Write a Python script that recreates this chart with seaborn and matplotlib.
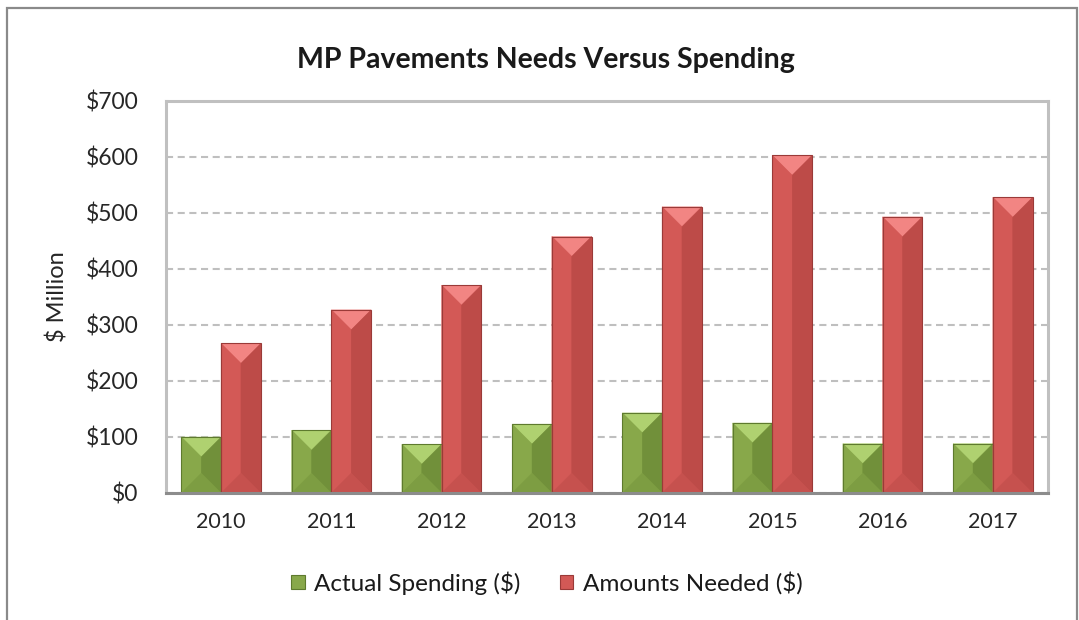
import matplotlib
matplotlib.use("Agg")
import matplotlib.pyplot as plt
from matplotlib.patches import Rectangle, Patch, Polygon
import numpy as np
import pandas as pd
import seaborn as sns

# ---- data ($ million) ----
years = ["2010", "2011", "2012", "2013", "2014", "2015", "2016", "2017"]
actual_spending = [100, 112, 87, 123, 143, 125, 88, 88]
amounts_needed = [267, 327, 371, 458, 511, 603, 493, 528]
series_names = ["Actual Spending ($)", "Amounts Needed ($)"]
y_ticks = [0, 100, 200, 300, 400, 500, 600, 700]
y_tick_labels = ["$0", "$100", "$200", "$300", "$400", "$500", "$600", "$700"]
title = "MP Pavements Needs Versus Spending"
y_label = "$ Million"

df = pd.DataFrame({
    "Year": years * 2,
    "Value": actual_spending + amounts_needed,
    "Series": [series_names[0]] * len(years) + [series_names[1]] * len(years),
})

# face shades per series: top, left, right, bottom, edge
shades = {
    series_names[0]: dict(top="#AFD170", left="#88A84A", right="#71903A",
                          bottom="#7D9D42", edge="#5E7A2E"),
    series_names[1]: dict(top="#F28583", left="#D35956", right="#BD4B48",
                          bottom="#C6514E", edge="#9A3A38"),
}

sns.set_theme(style="white")
plt.rcParams["font.family"] = ["Lato", "DejaVu Sans"]
plt.rcParams["text.color"] = "#1a1a1a"

W, H, DPI = 1079, 620, 100
fig = plt.figure(figsize=(W / DPI, H / DPI), dpi=DPI)
fig.patch.set_facecolor("white")

ax_l, ax_r, ax_t, ax_b = 166, 1048, 101, 493
ax = fig.add_axes([ax_l / W, 1 - ax_b / H, (ax_r - ax_l) / W, (ax_b - ax_t) / H])

palette = {k: v["left"] for k, v in shades.items()}
sns.barplot(data=df, x="Year", y="Value", hue="Series", order=years,
            hue_order=series_names, palette=palette, width=0.72,
            saturation=1, ax=ax, legend=False, edgecolor="none", zorder=3)

ax.set_ylim(0, 700)
ax.set_xlim(-0.5, len(years) - 0.5)

# pixel scales to build the chiselled bevel on each bar
px_per_x = (ax_r - ax_l) / len(years)
px_per_y = (ax_b - ax_t) / 700.0

for container, name in zip(ax.containers, series_names):
    sh = shades[name]
    for bar in container.patches:
        x0 = bar.get_x()
        w = bar.get_width()
        h = bar.get_height()
        x1 = x0 + w
        xc = x0 + w / 2
        depth = (w * px_per_x / 2) / px_per_y
        depth = min(depth, h / 2)
        top, bot = h, 0.0
        faces = [
            ([(x0, top), (x1, top), (xc, top - depth)], sh["top"]),
            ([(x0, top), (xc, top - depth), (xc, bot + depth), (x0, bot)], sh["left"]),
            ([(x1, top), (xc, top - depth), (xc, bot + depth), (x1, bot)], sh["right"]),
            ([(x0, bot), (x1, bot), (xc, bot + depth)], sh["bottom"]),
        ]
        for pts, col in faces:
            ax.add_patch(Polygon(pts, closed=True, facecolor=col,
                                 edgecolor=col, linewidth=0.3, zorder=4))
        ax.add_patch(Rectangle((x0, 0), w, h, fill=False,
                               edgecolor=sh["edge"], linewidth=0.8, zorder=5))

# grid and frame
ax.set_axisbelow(True)
ax.yaxis.grid(True, color="#BFBFBF", linewidth=1.5, linestyle=(0, (3.4, 2.2)))
ax.xaxis.grid(False)
for side in ["left", "top", "right"]:
    ax.spines[side].set_color("#C0C0C0")
    ax.spines[side].set_linewidth(2.2)
ax.spines["bottom"].set_color("#8C8C8C")
ax.spines["bottom"].set_linewidth(2.2)
ax.spines["bottom"].set_zorder(6)

ax.set_yticks(y_ticks)
ax.set_yticklabels(y_tick_labels)
ax.tick_params(axis="y", length=0, pad=20, labelsize=16.5)
ax.tick_params(axis="x", length=0, pad=14, labelsize=15.5)
ax.set_xlabel("")
ax.set_ylabel(y_label, fontsize=17, labelpad=12)

# title, legend and outer frame
fig.text(546 / W, 1 - 60 / H, title, ha="center", va="center",
         fontsize=20.5, fontweight="bold")

handles = [Patch(facecolor=shades[n]["left"], edgecolor=shades[n]["edge"],
                 linewidth=0.8) for n in series_names]
fig.legend(handles, series_names, loc="center",
           bbox_to_anchor=(547 / W, 1 - 583 / H), ncol=2, frameon=False,
           fontsize=17.5, handlelength=0.55, handleheight=0.55,
           handletextpad=0.4, columnspacing=1.6)

fig.patches.append(Rectangle((7 / W, -0.02), (1077 - 7) / W, 1.02 - 8 / H,
                             transform=fig.transFigure, fill=False,
                             edgecolor="#8A8A8A", linewidth=1.6))

fig.savefig("out.png", dpi=DPI, facecolor="white")
